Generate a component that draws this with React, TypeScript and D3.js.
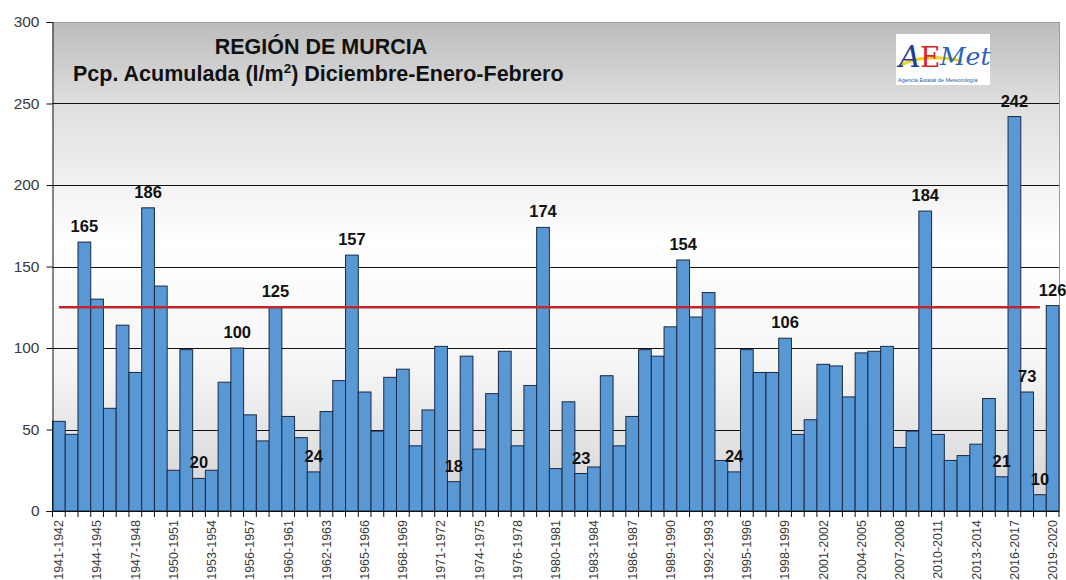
import * as d3 from 'd3';
import { useEffect, useRef } from 'react';

// winter seasons (Dec-Jan-Feb)
const seasons = [
  '1941-1942', '1942-1943', '1943-1944', '1944-1945', '1945-1946', '1946-1947', '1947-1948', '1948-1949',
  '1949-1950', '1950-1951', '1951-1952', '1952-1953', '1953-1954', '1954-1955', '1955-1956', '1956-1957',
  '1957-1958', '1958-1959', '1959-1960', '1960-1961', '1961-1962', '1962-1963', '1963-1964', '1964-1965',
  '1965-1966', '1966-1967', '1967-1968', '1968-1969', '1969-1970', '1970-1971', '1971-1972', '1972-1973',
  '1973-1974', '1974-1975', '1975-1976', '1976-1977', '1977-1978', '1978-1979', '1979-1980', '1980-1981',
  '1981-1982', '1982-1983', '1983-1984', '1984-1985', '1985-1986', '1986-1987', '1987-1988', '1988-1989',
  '1989-1990', '1990-1991', '1991-1992', '1992-1993', '1993-1994', '1994-1995', '1995-1996', '1996-1997',
  '1997-1998', '1998-1999', '1999-2000', '2000-2001', '2001-2002', '2002-2003', '2003-2004', '2004-2005',
  '2005-2006', '2006-2007', '2007-2008', '2008-2009', '2009-2010', '2010-2011', '2011-2012', '2012-2013',
  '2013-2014', '2014-2015', '2015-2016', '2016-2017', '2017-2018', '2018-2019', '2019-2020',
];

// accumulated precipitation l/m2
const precip = [
  55, 47, 165, 130, 63, 114, 85, 186, 138, 25,
  99, 20, 25, 79, 100, 59, 43, 125, 58, 45,
  24, 61, 80, 157, 73, 49, 82, 87, 40, 62,
  101, 18, 95, 38, 72, 98, 40, 77, 174, 26,
  67, 23, 27, 83, 40, 58, 99, 95, 113, 154,
  119, 134, 31, 24, 99, 85, 85, 106, 47, 56,
  90, 89, 70, 97, 98, 101, 39, 49, 184, 47,
  31, 34, 41, 69, 21, 242, 73, 10, 126,
];

// labels as printed under every third bar
const tickLabels = [
  '1941-1942', '1944-1945', '1947-1948', '1950-1951', '1953-1954', '1956-1957', '1960-1961',
  '1962-1963', '1965-1966', '1968-1969', '1971-1972', '1974-1975', '1976-1978', '1980-1981',
  '1983-1984', '1986-1987', '1989-1990', '1992-1993', '1995-1996', '1998-1999', '2001-2002',
  '2004-2005', '2007-2008', '2010-2011', '2013-2014', '2016-2017', '2019-2020',
];

const labeledSeasons = [
  '1943-1944', '1948-1949', '1952-1953', '1955-1956', '1958-1959', '1961-1962', '1964-1965',
  '1972-1973', '1979-1980', '1982-1983', '1990-1991', '1994-1995', '1998-1999', '2009-2010',
  '2015-2016', '2016-2017', '2017-2018', '2018-2019', '2019-2020',
];

const meanValue = 125;
const yTicks = [0, 50, 100, 150, 200, 250, 300];

const W = 1066;
const H = 580;
const left = 52.5;
const right = 1059;
const top = 22;
const bottom = 511;
const font = '"Liberation Sans", Arial, sans-serif';

function App() {
  const svgRef = useRef(null);

  useEffect(() => {
    const svg = d3.select(svgRef.current);
    const data = seasons.map((s, i) => ({ season: s, value: precip[i] }));

    const x = d3.scaleBand().domain(seasons).range([left, right]).padding(0);
    const y = d3.scaleLinear().domain([0, 300]).range([bottom, top]);

    // grid
    svg
      .select('.grid')
      .selectAll('line')
      .data(yTicks.filter(t => t > 0))
      .join('line')
      .attr('x1', left)
      .attr('x2', right)
      .attr('y1', d => Math.round(y(d)) + 0.5)
      .attr('y2', d => Math.round(y(d)) + 0.5)
      .attr('stroke', d => (d === 300 ? '#9a9a9a' : '#111'))
      .attr('stroke-width', 1);

    // bars
    svg
      .select('.bars')
      .selectAll('rect')
      .data(data)
      .join('rect')
      .attr('x', d => x(d.season))
      .attr('width', x.bandwidth())
      .attr('y', d => y(d.value))
      .attr('height', d => bottom - y(d.value))
      .attr('fill', '#5898d4')
      .attr('stroke', '#1b2a48')
      .attr('stroke-width', 1);

    // mean line
    svg
      .select('.mean')
      .attr('x1', x(seasons[0]) + x.bandwidth() / 2)
      .attr('x2', x(seasons[seasons.length - 2]) + x.bandwidth() / 2)
      .attr('y1', y(meanValue))
      .attr('y2', y(meanValue))
      .attr('stroke', '#c0262c')
      .attr('stroke-width', 2.5);

    // y axis
    const yAxis = d3.axisLeft(y).tickValues(yTicks).tickSize(6).tickPadding(7);
    const yg = svg.select('.yAxis').attr('transform', `translate(${left},0)`).call(yAxis);
    yg.select('.domain').attr('stroke', '#111');
    yg.selectAll('line').attr('stroke', '#111');
    yg.selectAll('text').attr('font-family', font).attr('font-size', 15.5).attr('fill', '#3a3a3a');

    // x axis: ticks between bars, labels on every third bar
    const xg = svg.select('.xAxis');
    xg.selectAll('line.base')
      .data([0])
      .join('line')
      .attr('class', 'base')
      .attr('x1', left)
      .attr('x2', right)
      .attr('y1', bottom + 0.5)
      .attr('y2', bottom + 0.5)
      .attr('stroke', '#111');
    xg.selectAll('line.tick')
      .data([...seasons.map(s => x(s)), right])
      .join('line')
      .attr('class', 'tick')
      .attr('x1', d => d)
      .attr('x2', d => d)
      .attr('y1', bottom)
      .attr('y2', bottom + 6)
      .attr('stroke', '#111');
    xg.selectAll('text')
      .data(seasons.filter((_, i) => i % 3 === 0))
      .join('text')
      .attr('transform', d => `translate(${x(d) + x.bandwidth() / 2},${bottom + 9}) rotate(-90)`)
      .attr('text-anchor', 'end')
      .attr('dy', '0.35em')
      .attr('font-family', font)
      .attr('font-size', 12.5)
      .attr('fill', '#3a3a3a')
      .text((_, i) => tickLabels[i]);

    // value labels
    svg
      .select('.labels')
      .selectAll('text')
      .data(data.filter(d => labeledSeasons.includes(d.season)))
      .join('text')
      .attr('x', d => x(d.season) + x.bandwidth() / 2)
      .attr('y', d => y(d.value) - 10)
      .attr('text-anchor', 'middle')
      .attr('font-family', font)
      .attr('font-weight', 'bold')
      .attr('font-size', 16.5)
      .attr('fill', '#111')
      .text(d => d.value);
  }, []);

  return (
    <svg
      ref={svgRef}
      width={W}
      height={H}
      style={{ position: 'absolute', left: 0, top: 0, background: '#fff' }}
    >
      <defs>
        <linearGradient id="bg" x1="0" y1="0" x2="0" y2="1">
          <stop offset="0" stopColor="#bcbcbc" />
          <stop offset="0.17" stopColor="#dfdfdf" />
          <stop offset="0.45" stopColor="#ffffff" />
          <stop offset="0.7" stopColor="#f6f6f6" />
          <stop offset="1" stopColor="#d2d2d2" />
        </linearGradient>
      </defs>
      <rect x={left} y={top} width={right - left} height={bottom - top} fill="url(#bg)" />
      <line x1={right + 0.5} x2={right + 0.5} y1={top} y2={bottom} stroke="#9a9a9a" />
      <g className="grid" />
      <g className="bars" />
      <line className="mean" />
      <g className="yAxis" />
      <g className="xAxis" />
      <g className="labels" />

      <g fontFamily={font} fontWeight="bold" fill="#111">
        <text x={321} y={54} fontSize={21.5} textAnchor="middle">REGIÓN DE MURCIA</text>
        <text x={73} y={81} fontSize={21.5}>
          Pcp. Acumulada (l/m<tspan fontSize={13.5} dy={-8}>2</tspan>
          <tspan dy={8}>) Diciembre-Enero-Febrero</tspan>
        </text>
      </g>

      {/* AEMet logo */}
      <g>
        <rect x={896} y={34} width={94} height={51} fill="#fff" />
        <path d="M900 66 C 912 58, 934 55, 962 61" stroke="#f2d21b" strokeWidth={3} fill="none" />
        <text x={899} y={67} fontFamily='"DejaVu Serif", serif' fontStyle="italic" fontSize={30} fill="#1d3c9e">A</text>
        <text x={920} y={67} fontFamily='"DejaVu Serif", serif' fontSize={28} fill="#d8262c">E</text>
        <text x={940} y={65} fontFamily='"DejaVu Serif", serif' fontStyle="italic" fontSize={25} fill="#2b63b8">Met</text>
        <text x={898} y={82} fontFamily={font} fontSize={5.5} fill="#2b5aa8">Agencia Estatal de Meteorología</text>
      </g>
    </svg>
  );
}

export default App;
